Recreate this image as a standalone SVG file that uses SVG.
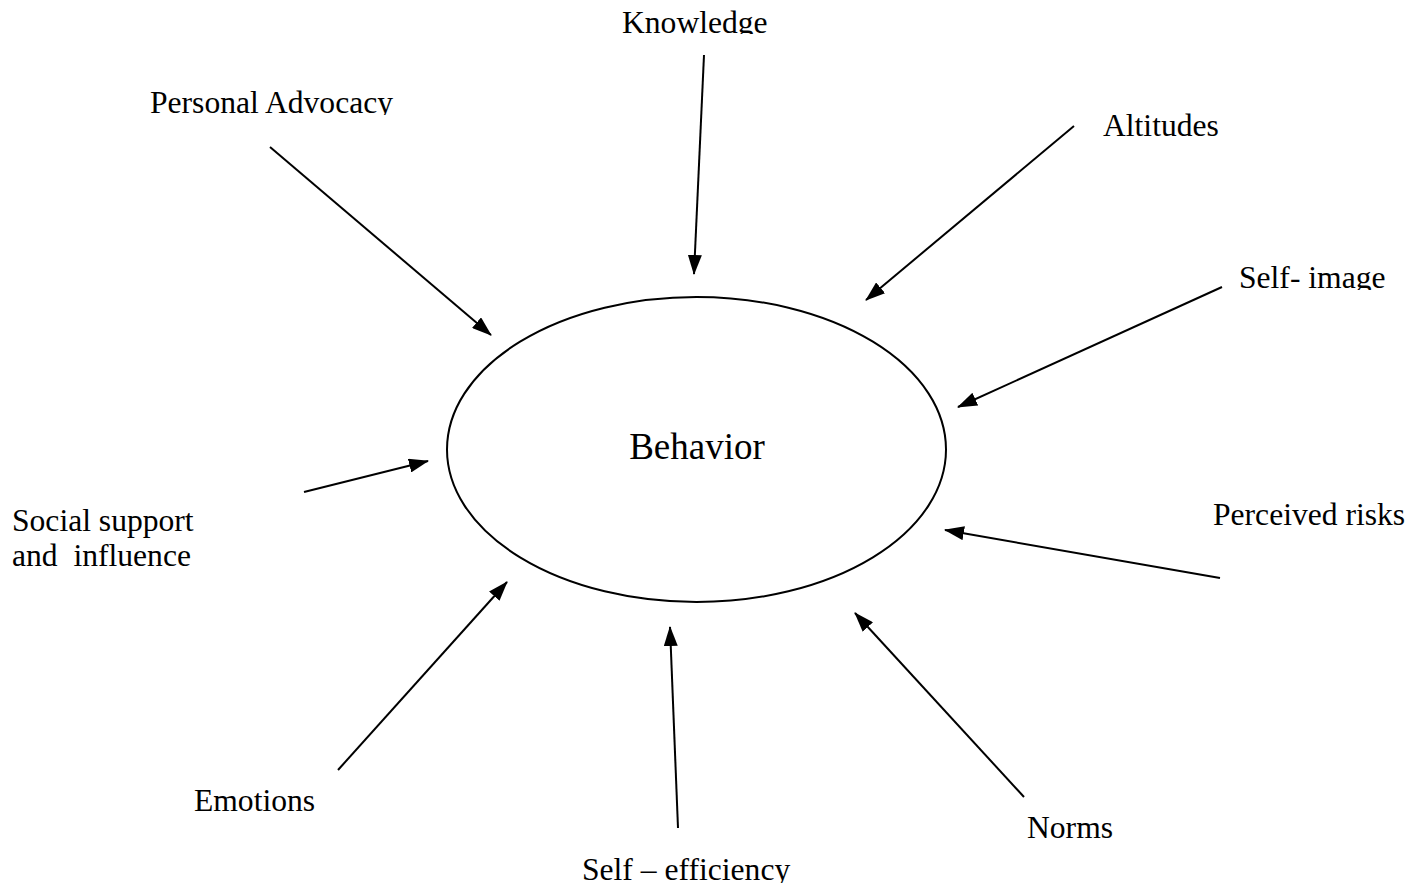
<svg xmlns="http://www.w3.org/2000/svg" width="1424" height="885" viewBox="0 0 1424 885">
  <style>
    .lbl { font-family: "Liberation Serif", "Times New Roman", serif; font-size: 31.6px; fill: #000; }
    .big { font-family: "Liberation Serif", "Times New Roman", serif; font-size: 37px; fill: #000; }
    .arrow { stroke: #000; stroke-width: 2; fill: none; marker-end: url(#head); }
  </style>
  <defs>
    <marker id="head" markerUnits="userSpaceOnUse" markerWidth="20" markerHeight="14" refX="19" refY="7" orient="auto">
      <path d="M0,0 L20,7 L0,14 Z" fill="#000"/>
    </marker>
    <clipPath id="cutTop"><rect x="0" y="0" width="1424" height="34"/></clipPath>
    <clipPath id="cutAdv"><rect x="0" y="0" width="1424" height="115"/></clipPath>
    <clipPath id="cutImg"><rect x="0" y="0" width="1424" height="290"/></clipPath>
    <clipPath id="cutRisk"><rect x="0" y="0" width="1406" height="885"/></clipPath>
    <clipPath id="cutEff"><rect x="0" y="0" width="1424" height="883"/></clipPath>
  </defs>
  <rect width="1424" height="885" fill="#fff"/>

  <g id="behavior">
    <ellipse cx="696.5" cy="449.5" rx="249.5" ry="152.5" fill="none" stroke="#000" stroke-width="2"/>
    <text class="big" x="697" y="459" text-anchor="middle">Behavior</text>
  </g>

  <g id="knowledge"><text class="lbl" x="622" y="33" clip-path="url(#cutTop)">Knowledge</text></g>
  <g id="personal-advocacy"><text class="lbl" x="150" y="113" clip-path="url(#cutAdv)">Personal Advocacy</text></g>
  <g id="altitudes"><text class="lbl" x="1103" y="136">Altitudes</text></g>
  <g id="self-image"><text class="lbl" x="1239" y="288" clip-path="url(#cutImg)">Self- image</text></g>
  <g id="perceived-risks"><text class="lbl" x="1213" y="525" clip-path="url(#cutRisk)">Perceived risks</text></g>
  <g id="social-support">
    <text class="lbl" x="12" y="531">Social support</text>
    <text class="lbl" x="12" y="566" xml:space="preserve">and  influence</text>
  </g>
  <g id="emotions"><text class="lbl" x="194" y="811">Emotions</text></g>
  <g id="self-efficiency"><text class="lbl" x="582" y="880" clip-path="url(#cutEff)">Self – efficiency</text></g>
  <g id="norms"><text class="lbl" x="1027" y="838">Norms</text></g>

  <g id="connectors">
    <line class="arrow" x1="704" y1="55" x2="694" y2="274"/>
    <line class="arrow" x1="270" y1="147" x2="491" y2="335"/>
    <line class="arrow" x1="1074" y1="126" x2="866" y2="300"/>
    <line class="arrow" x1="1222" y1="287" x2="958" y2="407"/>
    <line class="arrow" x1="1220" y1="578" x2="945" y2="530"/>
    <line class="arrow" x1="1024" y1="797" x2="855" y2="613"/>
    <line class="arrow" x1="678" y1="828" x2="670" y2="627"/>
    <line class="arrow" x1="338" y1="770" x2="507" y2="582"/>
    <line class="arrow" x1="304" y1="492" x2="428" y2="461"/>
  </g>
</svg>
